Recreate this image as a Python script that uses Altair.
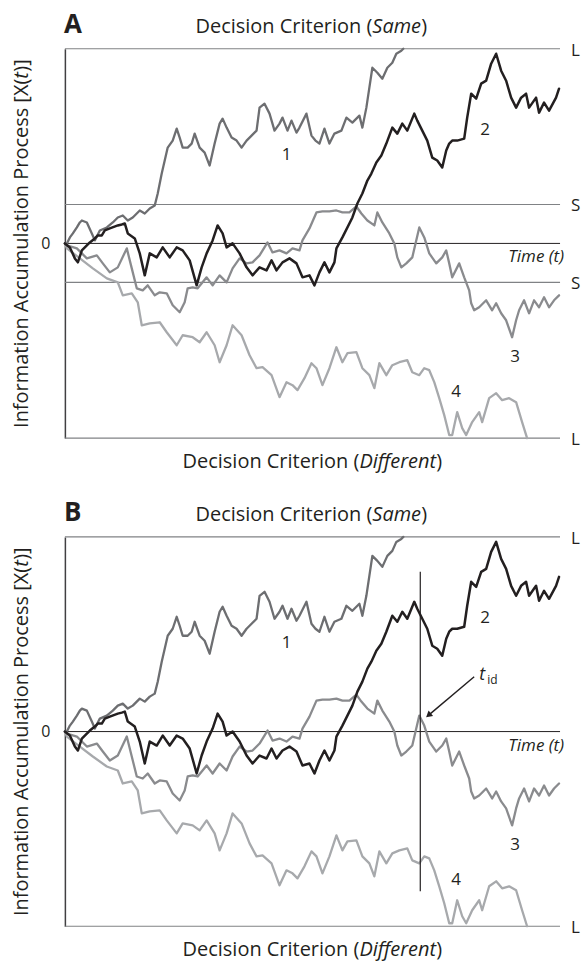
import altair as alt
import pandas as pd

FONT = "Open Sans"
INK = "#231f20"

# Sample paths of the information accumulation process X(t):
# time step and accumulated state for each of the four trials.
t1 = [0, 2, 5, 8, 12, 15, 17, 22, 27, 30, 35, 42, 48, 53, 58, 63, 68, 75, 80, 85,
      90, 93, 97, 100, 103, 108, 112, 115, 118, 123, 127, 130, 135, 140, 145, 150, 155, 158, 162, 167,
      172, 177, 182, 187, 192, 195, 200, 205, 210, 215, 218, 223, 227, 232, 235, 242, 247, 251, 255, 260,
      265, 270, 277, 282, 288, 295, 298, 302, 305, 308, 313, 318, 323, 328, 332, 337, 339]
x1 = [0, 0, 6, 10, 16, 21, 23, 21, 10, 3, 13, 16, 21, 26, 28, 23, 26, 33, 30, 35,
      38, 50, 70, 83, 96, 103, 115, 106, 96, 96, 100, 110, 96, 91, 78, 100, 120, 125, 116, 106,
      103, 96, 103, 108, 113, 136, 140, 130, 113, 120, 126, 113, 123, 111, 116, 130, 108, 103, 100, 115,
      100, 110, 113, 126, 121, 128, 116, 136, 156, 176, 171, 165, 176, 181, 190, 193, 195]

t2 = [0, 5, 10, 13, 17, 22, 25, 30, 33, 37, 40, 45, 53, 57, 60, 63, 70, 75, 80, 85,
      92, 98, 105, 112, 118, 125, 132, 137, 142, 148, 153, 158, 162, 168, 175, 182, 188, 195, 202, 207,
      212, 218, 225, 232, 238, 245, 250, 255, 260, 265, 270, 272, 278, 288, 293, 298, 303, 307, 312, 317,
      322, 328, 333, 338, 343, 350, 353, 358, 363, 368, 373, 378, 382, 385, 388, 393, 400, 403, 407, 412,
      417, 422, 427, 432, 437, 442, 447, 452, 457, 462, 465, 472, 475, 480, 485, 492, 495]
x2 = [0, -4, -15, -19, -7, -2, 1, 5, 8, 8, 13, 15, 18, 19, 20, 10, 5, -10, -32, -10,
      -14, -4, -14, -4, -7, -17, -42, -24, -10, 3, 18, 10, -4, 0, -10, -24, -32, -24, -27, -17,
      -27, -19, -15, -20, -34, -32, -42, -29, -19, -29, -19, -5, 6, 26, 40, 50, 63, 70, 81, 88,
      100, 116, 110, 120, 113, 130, 123, 113, 103, 86, 83, 76, 93, 100, 103, 103, 105, 126, 150, 145,
      160, 163, 180, 190, 173, 163, 146, 136, 146, 150, 136, 146, 131, 141, 133, 146, 155]

t3 = [0, 2, 12, 22, 32, 38, 45, 53, 62, 67, 72, 78, 83, 90, 95, 102, 108, 115, 120, 123,
      128, 133, 142, 148, 155, 162, 168, 175, 182, 188, 195, 203, 208, 215, 222, 228, 235, 238, 245, 252,
      258, 265, 272, 278, 285, 292, 297, 303, 310, 313, 318, 325, 330, 333, 337, 342, 348, 355, 360, 365,
      372, 378, 382, 385, 388, 395, 400, 405, 407, 410, 415, 422, 428, 432, 437, 442, 448, 452, 455, 460,
      465, 470, 475, 480, 485, 490, 495]
x3 = [0, -2, -5, -15, -12, -20, -29, -24, -5, -25, -45, -47, -42, -52, -49, -50, -62, -69, -59, -45,
      -44, -45, -34, -42, -32, -39, -25, -15, -20, -19, -12, 1, -9, -7, -10, -5, -7, 3, 15, 31,
      32, 32, 33, 31, 31, 37, 30, 23, 18, 31, 21, 10, 0, -14, -24, -20, -14, 16, 6, -10,
      -20, -14, -7, -20, -34, -20, -34, -47, -60, -67, -64, -57, -67, -60, -70, -77, -94, -77, -67, -57,
      -70, -57, -64, -54, -64, -57, -52]

t4 = [0, 2, 15, 28, 42, 53, 58, 67, 73, 77, 85, 95, 102, 112, 118, 128, 135, 142, 150, 155,
      162, 168, 177, 185, 192, 198, 207, 215, 222, 228, 233, 240, 247, 252, 258, 265, 272, 278, 283, 292,
      298, 305, 310, 315, 322, 328, 335, 343, 348, 355, 360, 365, 370, 375, 380, 385, 388, 393, 398, 402,
      408, 415, 418, 425, 432, 438, 445, 452, 458, 463]
x4 = [0, -5, -15, -25, -35, -39, -52, -50, -59, -82, -80, -79, -89, -102, -92, -94, -99, -89, -102, -119,
      -102, -82, -92, -112, -125, -124, -132, -154, -139, -142, -147, -135, -120, -125, -142, -125, -104, -119, -110, -109,
      -125, -132, -145, -120, -132, -122, -119, -117, -129, -132, -125, -127, -139, -155, -172, -192, -192, -169, -185, -192,
      -179, -169, -179, -155, -150, -157, -155, -159, -179, -195]

# Trial numbers written next to each path (time, state)
path_names = ["1", "2", "3", "4"]
name_t = [222, 421, 451, 392]
name_x = [89, 114, -114, -149]

T_END = 496        # length of the time axis
L_CRIT = 195       # L decision criterion (same / different)
S_CRIT = 39        # S decision criterion
T_ID = 356         # identification time t_id
T_ID_SPAN = 160    # half-height of the t_id marker
ARROW_T = [410, 365]
ARROW_X = [55, 17]

path_style = {  # name: (colour, width)
    "1": ("#6d6e71", 2.3),
    "2": ("#231f20", 2.5),
    "3": ("#8a8b8e", 2.3),
    "4": ("#a7a9ac", 2.3),
}
series = {"1": (t1, x1), "2": (t2, x2), "3": (t3, x3), "4": (t4, x4)}

W, H = 496, 390
xs = alt.Scale(domain=[0, T_END], nice=False, zero=False)
ys = alt.Scale(domain=[-L_CRIT, L_CRIT], nice=False, zero=False)
# one shared y axis: a plain left spine with only the 0 label
YAX = alt.Axis(values=[0], ticks=False, grid=False, title=None,
               labelFont=FONT, labelFontSize=16, labelColor=INK, labelPadding=15,
               domain=True, domainColor="#414042", domainWidth=1.5)
ONE = pd.DataFrame({"k": [0]})


def Y(field):
    return alt.Y(field, scale=ys, axis=YAX)


def X(field):
    return alt.X(field, scale=xs, axis=None)


def txt(s, x, y, size=20, style="normal", weight="normal", align="left", angle=0):
    return alt.Chart(ONE).mark_text(
        text=s, font=FONT, fontSize=size, fontStyle=style, fontWeight=weight,
        align=align, baseline="alphabetic", angle=angle, color=INK,
    ).encode(x=alt.value(x), y=alt.value(y))


def panel(letter, show_s, extra):
    vals = [L_CRIT, -L_CRIT] + ([S_CRIT, -S_CRIT] if show_s else [])
    labs = ["L", "L"] + (["S", "S"] if show_s else [])
    crit_df = pd.DataFrame({"v": vals, "name": labs})

    crit = alt.Chart(crit_df).mark_rule(color="#808285", strokeWidth=1.2).encode(
        y=Y("v:Q"), x=alt.value(0), x2=alt.value(W))
    crit_lab = alt.Chart(crit_df).mark_text(
        font=FONT, fontSize=17, align="left", baseline="middle", dy=2, color=INK
    ).encode(y=Y("v:Q"), x=alt.value(507), text="name:N")

    zero = alt.Chart(pd.DataFrame({"v": [0]})).mark_rule(color=INK, strokeWidth=1).encode(
        y=Y("v:Q"), x=alt.value(0), x2=alt.value(W))

    lines = []
    for key in ["4", "3", "1", "2"]:
        t, x = series[key]
        df = pd.DataFrame({"t": t, "x": x, "step": range(len(t))})
        col, w = path_style[key]
        lines.append(alt.Chart(df).mark_line(
            color=col, strokeWidth=w, strokeJoin="round", strokeCap="round"
        ).encode(x=X("t:Q"), y=Y("x:Q"), order="step:Q"))

    names = alt.Chart(pd.DataFrame({"name": path_names, "t": name_t, "x": name_x})).mark_text(
        font=FONT, fontSize=17, align="center", baseline="middle", color=INK
    ).encode(x=X("t:Q"), y=Y("x:Q"), text="name:N")

    texts = [
        txt(letter, -1, -16, size=26, weight="bold"),
        txt("Decision Criterion (", 308, -16, align="right"),
        txt("Same", 308, -16, style="italic"),
        txt(")", 357, -16),
        txt("Decision Criterion (", 295, 420, align="right"),
        txt("Different", 295, 420, style="italic"),
        txt(")", 372, 420),
        txt("Information Accumulation Process [X(", -37, 30, align="right", angle=270),
        txt("t", -37, 30, style="italic", angle=270),
        txt(")]", -37, 23, angle=270),
        txt("Time (t)", 500, 214, size=17, style="italic", align="right"),
    ]

    return alt.layer(zero, crit, *lines, names, crit_lab, *texts, *extra).properties(
        width=W, height=H)


# identification time marker and its annotation
tid_rule = alt.Chart(pd.DataFrame({"t": [T_ID], "a": [T_ID_SPAN], "b": [-T_ID_SPAN]})).mark_rule(
    color=INK, strokeWidth=1.2).encode(x=X("t:Q"), y=Y("a:Q"), y2="b:Q")
arrow_df = pd.DataFrame({"t": ARROW_T, "x": ARROW_X, "step": [0, 1]})
arrow_line = alt.Chart(arrow_df).mark_line(color=INK, strokeWidth=1.4).encode(
    x=X("t:Q"), y=Y("x:Q"), order="step:Q")
arrow_head = alt.Chart(arrow_df.tail(1)).mark_point(
    shape="triangle", angle=230, filled=True, size=50, color=INK, opacity=1
).encode(x=X("t:Q"), y=Y("x:Q"))
tid_text = [txt("t", 415, 143, size=18, style="italic"), txt("id", 423, 147, size=12)]

panel_a = panel("A", True, [])
panel_b = panel("B", False, [tid_rule, arrow_line, arrow_head, *tid_text])

chart = alt.vconcat(panel_a, panel_b, spacing=99, bounds="flush").properties(
    padding={"left": 12, "top": 11, "right": 0, "bottom": 0}
).configure_view(stroke=None)

chart.save("out.html", embed_options={"renderer": "svg", "actions": False})
